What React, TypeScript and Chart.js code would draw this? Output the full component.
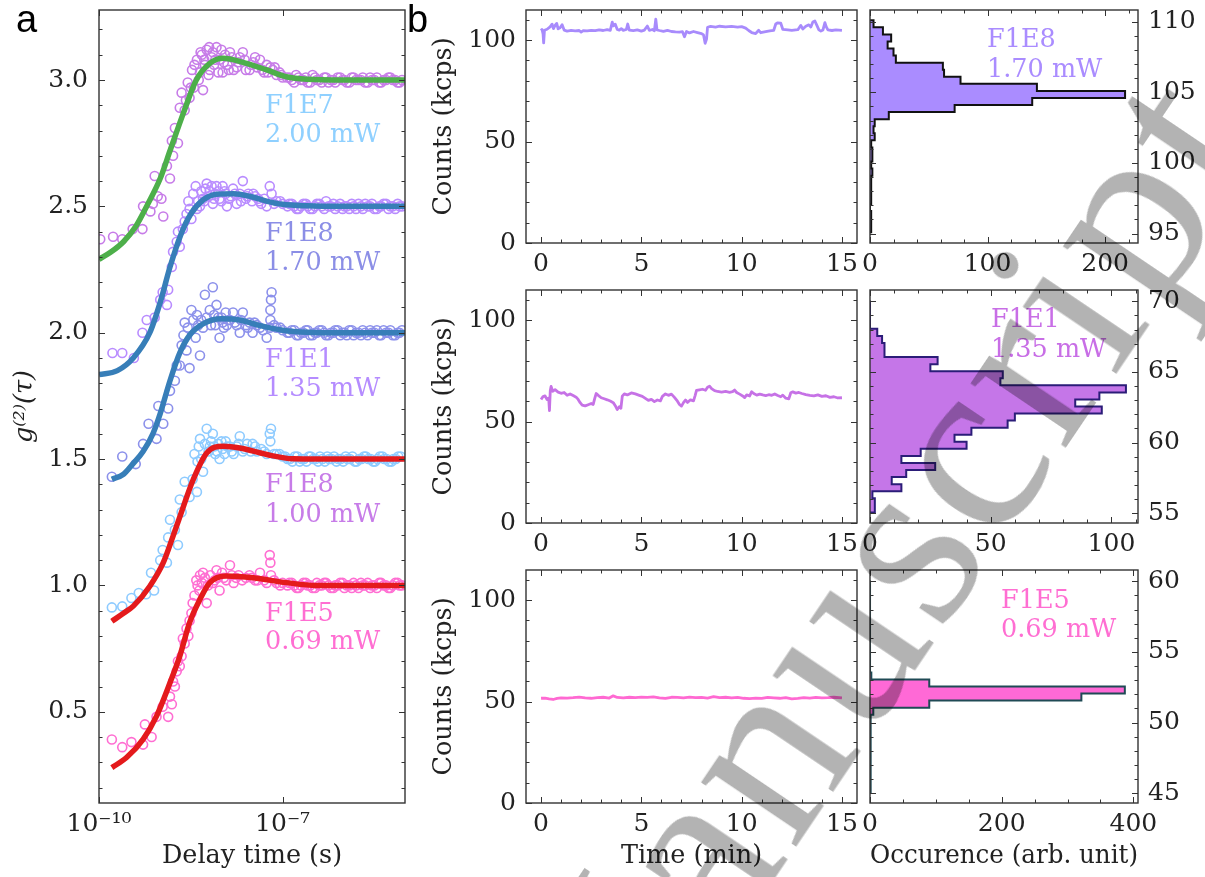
import React, { useEffect, useRef } from 'react';
import { Chart, registerables } from 'chart.js';
Chart.register(...registerables);

const SERIF = '"DejaVu Serif", serif';
const TXT = '#222';
const TICK_PX = 25;
const TITLE_PX = 25.5;

// ---------------- Panel a: g2 data (log10 tau [s], g2 + offset) ----------------
const A_X_TICKS = [1e-10, 1e-7];
const A_X_LABELS = ['10⁻¹⁰', '10⁻⁷'];
const A_Y_TICKS = [0.5, 1.0, 1.5, 2.0, 2.5, 3.0];
const A_Y_LABELS = ['0.5', '1.0', '1.5', '2.0', '2.5', '3.0'];

const DATA_F1E7 = [
  [-9.98, 2.37], [-9.77, 2.38], [-9.62, 2.37], [-9.45, 2.41], [-9.29, 2.41], [-9.28, 2.5], [-9.16, 2.48], [-9.12, 2.51],
  [-9.09, 2.62], [-9.04, 2.54], [-8.98, 2.53], [-8.95, 2.46], [-8.89, 2.66], [-8.84, 2.61], [-8.81, 2.76], [-8.79, 2.7],
  [-8.76, 2.81], [-8.71, 2.75], [-8.68, 2.89], [-8.65, 2.95], [-8.6, 2.88], [-8.55, 2.99], [-8.52, 2.93], [-8.48, 3.04],
  [-8.45, 2.97], [-8.4, 3.08], [-8.37, 3.0], [-8.35, 3.03], [-8.32, 3.1], [-8.3, 2.96], [-8.27, 3.06], [-8.24, 3.12],
  [-8.21, 3.02], [-8.19, 3.04], [-8.16, 3.09], [-8.12, 3.06], [-8.08, 3.13], [-8.05, 3.03], [-8.03, 3.08], [-7.98, 3.03],
  [-7.94, 3.1], [-7.9, 3.06], [-7.86, 3.11], [-7.8, 3.04], [-7.75, 3.05], [-7.7, 3.09], [-7.65, 3.11], [-7.6, 3.04],
  [-7.54, 3.04], [-7.48, 3.07], [-7.42, 3.05], [-7.37, 3.08], [-7.3, 3.03], [-7.26, 3.06], [-7.2, 3.05], [-7.16, 3.04],
  [-7.1, 3.02], [-7.05, 3.03], [-7.0, 3.01], [-6.93, 3.01], [-6.85, 3.0], [-6.78, 3.02], [-6.7, 3.0], [-6.62, 3.01],
  [-6.55, 2.99], [-6.47, 3.01], [-6.4, 3.0], [-6.32, 3.01], [-6.25, 2.99], [-6.17, 3.0], [-6.1, 3.01], [-6.02, 3.0],
  [-5.95, 2.99], [-5.87, 3.01], [-5.8, 3.0], [-5.72, 3.0], [-5.65, 2.99], [-5.57, 3.01], [-5.5, 3.0], [-5.42, 2.99],
  [-5.35, 3.0], [-5.27, 3.01], [-5.2, 3.0], [-5.12, 2.99], [-5.05, 3.0],
  [-8.58, 2.92], [-8.5, 2.97], [-8.44, 3.06], [-8.34, 3.11], [-8.28, 3.08], [-8.2, 3.13], [-8.14, 3.11], [-8.1, 3.08],
  [-8.0, 3.12], [-7.96, 3.07], [-7.88, 3.04], [-7.83, 3.09], [-7.72, 3.07], [-7.62, 3.08], [-7.52, 3.06], [-7.45, 3.09],
  [-7.33, 3.04], [-7.24, 3.03], [-7.13, 3.05], [-7.02, 3.02],
  [-6.89, 3.01], [-6.81, 2.99], [-6.74, 3.01], [-6.66, 3.0], [-6.59, 2.99], [-6.51, 3.02], [-6.44, 3.0], [-6.36, 2.99],
  [-6.29, 3.01], [-6.21, 3.0], [-6.14, 2.99], [-6.06, 3.01], [-5.99, 3.0], [-5.91, 2.99], [-5.84, 3.01], [-5.76, 3.0],
  [-5.69, 3.01], [-5.61, 2.99], [-5.54, 3.0], [-5.46, 3.01], [-5.39, 2.99], [-5.31, 3.0], [-5.24, 3.01], [-5.16, 3.0], [-5.09, 2.99],
];
const DATA_F1E8_170 = [
  [-9.78, 1.92], [-9.62, 1.92], [-9.43, 1.9], [-9.29, 2.0], [-9.22, 2.05], [-9.09, 2.06], [-9.0, 2.13], [-8.96, 2.16],
  [-8.89, 2.11], [-8.87, 2.17], [-8.81, 2.26], [-8.79, 2.32], [-8.73, 2.36], [-8.71, 2.4], [-8.68, 2.34], [-8.63, 2.41],
  [-8.57, 2.47], [-8.52, 2.49], [-8.49, 2.45], [-8.42, 2.58], [-8.38, 2.52], [-8.35, 2.5], [-8.3, 2.53], [-8.26, 2.57],
  [-8.24, 2.59], [-8.19, 2.56], [-8.14, 2.51], [-8.1, 2.55], [-8.08, 2.58], [-8.03, 2.53], [-7.98, 2.58], [-7.93, 2.55],
  [-7.91, 2.5], [-7.85, 2.54], [-7.81, 2.57], [-7.75, 2.51], [-7.7, 2.55], [-7.65, 2.6], [-7.6, 2.53], [-7.56, 2.55],
  [-7.5, 2.52], [-7.45, 2.54], [-7.4, 2.53], [-7.35, 2.51], [-7.26, 2.5], [-7.21, 2.58], [-7.18, 2.55], [-7.1, 2.52],
  [-7.0, 2.51], [-6.92, 2.5], [-6.85, 2.51], [-6.77, 2.49], [-6.7, 2.5], [-6.62, 2.51], [-6.55, 2.49], [-6.47, 2.5],
  [-6.4, 2.51], [-6.32, 2.49], [-6.25, 2.5], [-6.17, 2.51], [-6.1, 2.5], [-6.02, 2.49], [-5.95, 2.5], [-5.87, 2.51],
  [-5.8, 2.49], [-5.72, 2.5], [-5.65, 2.51], [-5.57, 2.5], [-5.5, 2.49], [-5.42, 2.5], [-5.35, 2.51], [-5.27, 2.49],
  [-5.2, 2.5], [-5.12, 2.51], [-5.05, 2.5],
  [-8.6, 2.44], [-8.54, 2.52], [-8.46, 2.55], [-8.4, 2.49], [-8.33, 2.56], [-8.28, 2.52], [-8.21, 2.54], [-8.16, 2.58],
  [-8.12, 2.53], [-8.05, 2.56], [-8.0, 2.52], [-7.95, 2.56], [-7.88, 2.53], [-7.78, 2.55], [-7.68, 2.52], [-7.58, 2.54],
  [-7.48, 2.55], [-7.38, 2.52], [-7.3, 2.53], [-7.14, 2.51], [-7.04, 2.52],
  [-6.89, 2.51], [-6.81, 2.5], [-6.74, 2.49], [-6.66, 2.51], [-6.59, 2.5], [-6.51, 2.49], [-6.44, 2.51], [-6.36, 2.5],
  [-6.29, 2.52], [-6.21, 2.5], [-6.14, 2.49], [-6.06, 2.51], [-5.99, 2.5], [-5.91, 2.49], [-5.84, 2.5], [-5.76, 2.51],
  [-5.69, 2.49], [-5.61, 2.5], [-5.54, 2.51], [-5.46, 2.49], [-5.39, 2.5], [-5.31, 2.51], [-5.24, 2.5], [-5.16, 2.49], [-5.09, 2.5],
];
const DATA_F1E1 = [
  [-9.79, 1.43], [-9.62, 1.51], [-9.4, 1.48], [-9.28, 1.56], [-9.19, 1.64], [-9.06, 1.58], [-9.03, 1.71], [-8.95, 1.64],
  [-8.87, 1.7], [-8.84, 1.77], [-8.76, 1.81], [-8.73, 1.87], [-8.68, 1.87], [-8.65, 1.95], [-8.6, 2.04], [-8.57, 1.93],
  [-8.52, 1.86], [-8.49, 2.09], [-8.42, 1.98], [-8.38, 2.03], [-8.35, 1.91], [-8.33, 2.05], [-8.27, 2.15], [-8.19, 2.09],
  [-8.14, 2.18], [-8.1, 2.03], [-8.08, 2.11], [-8.05, 2.06], [-8.03, 1.98], [-7.98, 2.04], [-7.93, 2.08], [-7.91, 2.03],
  [-7.86, 2.05], [-7.81, 2.08], [-7.75, 2.03], [-7.7, 2.0], [-7.65, 2.08], [-7.6, 2.03], [-7.54, 2.04], [-7.49, 2.0],
  [-7.42, 2.03], [-7.37, 2.02], [-7.26, 1.98], [-7.21, 2.02], [-7.2, 2.05], [-7.2, 2.09], [-7.19, 2.13], [-7.18, 2.16],
  [-7.1, 2.02], [-7.0, 2.01], [-6.92, 2.0], [-6.85, 2.01], [-6.77, 1.99], [-6.7, 2.0], [-6.62, 2.01], [-6.55, 1.99],
  [-6.47, 2.0], [-6.4, 2.01], [-6.32, 2.0], [-6.25, 1.99], [-6.17, 2.0], [-6.1, 2.01], [-6.02, 2.0], [-5.95, 1.99],
  [-5.87, 2.01], [-5.8, 2.0], [-5.72, 1.99], [-5.65, 2.0], [-5.57, 2.01], [-5.5, 2.0], [-5.42, 1.99], [-5.35, 2.01],
  [-5.27, 2.0], [-5.2, 1.99], [-5.12, 2.0], [-5.05, 2.01],
  [-8.62, 1.99], [-8.55, 2.02], [-8.46, 2.05], [-8.4, 2.07], [-8.3, 2.02], [-8.24, 2.06], [-8.17, 2.03], [-8.12, 2.07],
  [-8.0, 2.06], [-7.96, 2.02], [-7.88, 2.05], [-7.78, 2.04], [-7.68, 2.05], [-7.57, 2.02], [-7.46, 2.04], [-7.32, 2.01],
  [-7.14, 2.03], [-7.04, 2.02],
  [-6.89, 2.0], [-6.81, 2.01], [-6.74, 1.99], [-6.66, 2.0], [-6.59, 2.01], [-6.51, 1.99], [-6.44, 2.0], [-6.36, 2.01],
  [-6.29, 1.99], [-6.21, 2.0], [-6.14, 2.01], [-6.06, 1.99], [-5.99, 2.0], [-5.91, 2.01], [-5.84, 1.99], [-5.76, 2.0],
  [-5.69, 2.01], [-5.61, 1.99], [-5.54, 2.0], [-5.46, 2.01], [-5.39, 1.99], [-5.31, 2.0], [-5.24, 2.01], [-5.16, 1.99], [-5.09, 2.0],
];
const DATA_F1E8_100 = [
  [-9.79, 0.913], [-9.62, 0.917], [-9.47, 0.95], [-9.35, 0.97], [-9.23, 0.965], [-9.15, 1.05], [-9.1, 0.98], [-9.0, 1.1],
  [-8.96, 1.14], [-8.89, 1.09], [-8.87, 1.19], [-8.84, 1.26], [-8.76, 1.22], [-8.71, 1.16], [-8.68, 1.34], [-8.65, 1.29],
  [-8.6, 1.41], [-8.52, 1.35], [-8.47, 1.42], [-8.4, 1.37], [-8.39, 1.49], [-8.35, 1.58], [-8.3, 1.45], [-8.24, 1.62],
  [-8.19, 1.55], [-8.14, 1.6], [-8.1, 1.52], [-8.05, 1.56], [-8.03, 1.5], [-7.98, 1.54], [-7.93, 1.57], [-7.86, 1.55],
  [-7.8, 1.52], [-7.75, 1.55], [-7.7, 1.59], [-7.65, 1.53], [-7.58, 1.56], [-7.49, 1.56], [-7.42, 1.53], [-7.35, 1.54],
  [-7.26, 1.52], [-7.21, 1.6], [-7.2, 1.57], [-7.19, 1.62], [-7.1, 1.52], [-7.05, 1.52], [-6.96, 1.51], [-6.88, 1.5],
  [-6.8, 1.51], [-6.72, 1.49], [-6.65, 1.5], [-6.57, 1.51], [-6.5, 1.5], [-6.42, 1.49], [-6.35, 1.5], [-6.27, 1.51],
  [-6.2, 1.5], [-6.12, 1.49], [-6.05, 1.5], [-5.97, 1.51], [-5.9, 1.5], [-5.82, 1.49], [-5.75, 1.5], [-5.67, 1.51],
  [-5.6, 1.5], [-5.52, 1.49], [-5.45, 1.5], [-5.37, 1.51], [-5.3, 1.5], [-5.22, 1.49], [-5.15, 1.5], [-5.07, 1.51],
  [-8.44, 1.52], [-8.37, 1.55], [-8.33, 1.5], [-8.27, 1.56], [-8.21, 1.53], [-8.17, 1.57], [-8.12, 1.55], [-8.07, 1.53],
  [-8.0, 1.57], [-7.95, 1.52], [-7.9, 1.55], [-7.83, 1.53], [-7.72, 1.56], [-7.62, 1.54], [-7.52, 1.53], [-7.45, 1.55],
  [-7.3, 1.53], [-7.14, 1.52], [-7.0, 1.51],
  [-6.92, 1.5], [-6.84, 1.49], [-6.76, 1.51], [-6.69, 1.5], [-6.61, 1.49], [-6.54, 1.51], [-6.46, 1.5], [-6.39, 1.51],
  [-6.31, 1.49], [-6.24, 1.5], [-6.16, 1.51], [-6.09, 1.5], [-6.01, 1.49], [-5.94, 1.5], [-5.86, 1.51], [-5.79, 1.49],
  [-5.71, 1.5], [-5.64, 1.51], [-5.56, 1.5], [-5.49, 1.49], [-5.41, 1.51], [-5.34, 1.5], [-5.26, 1.49], [-5.19, 1.5], [-5.11, 1.51],
];
const DATA_F1E5 = [
  [-9.79, 0.39], [-9.62, 0.36], [-9.47, 0.38], [-9.28, 0.37], [-9.25, 0.45], [-9.14, 0.4], [-9.06, 0.48], [-8.96, 0.52],
  [-8.87, 0.48], [-8.84, 0.56], [-8.81, 0.53], [-8.79, 0.62], [-8.73, 0.66], [-8.71, 0.7], [-8.65, 0.72], [-8.63, 0.79],
  [-8.57, 0.83], [-8.52, 0.86], [-8.49, 0.89], [-8.47, 0.93], [-8.39, 1.0], [-8.35, 1.04], [-8.3, 1.05], [-8.24, 0.93],
  [-8.22, 1.0], [-8.14, 1.01], [-8.08, 1.06], [-8.03, 0.98], [-7.96, 1.03], [-7.86, 1.08], [-7.8, 1.01], [-7.72, 1.04],
  [-7.6, 1.03], [-7.54, 1.04], [-7.45, 1.02], [-7.37, 1.05], [-7.3, 1.02], [-7.21, 1.12], [-7.2, 1.09], [-7.19, 1.04],
  [-7.1, 1.01], [-7.0, 1.01], [-6.92, 1.0], [-6.85, 1.01], [-6.77, 0.99], [-6.7, 1.0], [-6.62, 1.01], [-6.55, 1.0],
  [-6.47, 0.99], [-6.4, 1.0], [-6.32, 1.01], [-6.25, 1.0], [-6.17, 0.99], [-6.1, 1.0], [-6.02, 1.01], [-5.95, 1.0],
  [-5.87, 0.99], [-5.8, 1.0], [-5.72, 1.01], [-5.65, 1.0], [-5.57, 0.99], [-5.5, 1.0], [-5.42, 1.01], [-5.35, 1.0],
  [-5.27, 0.99], [-5.2, 1.0], [-5.12, 1.01], [-5.05, 1.0],
  [-8.76, 0.6], [-8.68, 0.68], [-8.6, 0.77], [-8.54, 0.8], [-8.44, 0.96], [-8.41, 1.02], [-8.36, 0.98], [-8.32, 1.01],
  [-8.27, 1.03], [-8.18, 1.04], [-8.11, 1.02], [-8.06, 1.03], [-7.99, 1.05], [-7.92, 1.02], [-7.83, 1.04], [-7.76, 1.03],
  [-7.66, 1.02], [-7.5, 1.03], [-7.41, 1.02], [-7.26, 1.01], [-7.14, 1.02], [-7.04, 1.0],
  [-6.89, 1.01], [-6.81, 1.0], [-6.74, 0.99], [-6.66, 1.01], [-6.59, 1.0], [-6.51, 0.99], [-6.44, 1.01], [-6.36, 1.0],
  [-6.29, 1.01], [-6.21, 0.99], [-6.14, 1.0], [-6.06, 1.01], [-5.99, 0.99], [-5.91, 1.0], [-5.84, 1.01], [-5.76, 0.99],
  [-5.69, 1.0], [-5.61, 1.01], [-5.54, 1.0], [-5.46, 0.99], [-5.39, 1.01], [-5.31, 1.0], [-5.24, 0.99], [-5.16, 1.01], [-5.09, 1.0],
];

const FIT_F1E7 = [
  [-10.0, 2.29], [-9.8, 2.32], [-9.6, 2.36], [-9.4, 2.42], [-9.2, 2.51], [-9.0, 2.61], [-8.84, 2.72], [-8.62, 2.87],
  [-8.41, 3.0], [-8.19, 3.066], [-7.97, 3.086], [-7.65, 3.07], [-7.26, 3.04], [-6.94, 3.013], [-6.6, 3.003], [-6.0, 3.0], [-5.0, 3.0],
];
const FIT_F1E8_170 = [
  [-10.0, 1.834], [-9.7, 1.85], [-9.44, 1.9], [-9.17, 2.0], [-9.0, 2.12], [-8.84, 2.26], [-8.66, 2.39], [-8.5, 2.47],
  [-8.3, 2.525], [-8.08, 2.548], [-7.8, 2.55], [-7.54, 2.54], [-7.25, 2.52], [-7.0, 2.508], [-6.6, 2.502], [-6.0, 2.5], [-5.0, 2.5],
];
const FIT_F1E1 = [
  [-9.79, 1.42], [-9.6, 1.44], [-9.45, 1.48], [-9.28, 1.53], [-9.12, 1.6], [-9.0, 1.68], [-8.84, 1.81], [-8.68, 1.92],
  [-8.52, 1.99], [-8.3, 2.035], [-8.0, 2.055], [-7.7, 2.05], [-7.4, 2.03], [-7.0, 2.01], [-6.6, 2.002], [-6.0, 2.0], [-5.0, 2.0],
];
const FIT_F1E8_100 = [
  [-9.79, 0.858], [-9.6, 0.89], [-9.44, 0.918], [-9.17, 0.997], [-8.95, 1.09], [-8.79, 1.195], [-8.62, 1.313],
  [-8.46, 1.419], [-8.24, 1.524], [-7.97, 1.551], [-7.7, 1.544], [-7.26, 1.518], [-6.83, 1.501], [-6.4, 1.5], [-5.0, 1.5],
];
const FIT_F1E5 = [
  [-9.79, 0.279], [-9.55, 0.319], [-9.28, 0.391], [-9.06, 0.483], [-8.84, 0.615], [-8.68, 0.72], [-8.52, 0.853],
  [-8.35, 0.945], [-8.19, 1.011], [-7.92, 1.037], [-7.48, 1.03], [-6.94, 1.011], [-6.45, 1.0], [-5.0, 1.0],
];

// ---------------- Panel b: time traces (min, kcps) ----------------
const T_X_TICKS = [0, 5, 10, 15];
const T_X_LABELS = ['0', '5', '10', '15'];
const T_Y_TICKS = [0, 50, 100];
const T_Y_LABELS = ['0', '50', '100'];

const TRACE_170 = [
  [0, 104.6], [0.05, 105.2], [0.1, 103.0], [0.13, 98.6], [0.17, 104.8], [0.3, 105.3], [0.45, 106.5], [0.55, 107.8],
  [0.62, 105.6], [0.7, 107.2], [0.78, 108.2], [0.85, 105.5], [0.95, 106.0], [1.05, 107.6], [1.15, 104.9], [1.3, 104.4],
  [1.5, 104.8], [1.7, 104.5], [1.9, 104.7], [2.0, 103.9], [2.1, 104.6], [2.3, 104.5], [2.5, 104.8], [2.7, 104.6],
  [2.9, 105.0], [3.1, 104.7], [3.3, 105.1], [3.45, 104.8], [3.55, 108.8], [3.6, 107.0], [3.7, 107.8], [3.8, 105.2],
  [3.9, 104.9], [4.0, 105.6], [4.1, 104.8], [4.25, 105.2], [4.32, 107.9], [4.4, 104.9], [4.6, 104.6], [4.8, 105.0],
  [5.0, 104.4], [5.15, 104.9], [5.3, 106.9], [5.4, 104.8], [5.55, 105.2], [5.65, 104.6], [5.72, 110.3], [5.78, 105.0],
  [5.9, 104.7], [6.1, 104.3], [6.3, 104.8], [6.5, 104.2], [6.7, 104.0], [6.9, 103.9], [7.05, 104.1], [7.15, 101.6],
  [7.25, 104.2], [7.4, 103.5], [7.6, 104.2], [7.8, 103.7], [8.0, 103.2], [8.1, 102.5], [8.18, 98.4], [8.25, 100.5],
  [8.3, 106.3], [8.45, 106.7], [8.7, 106.4], [8.9, 106.8], [9.2, 106.5], [9.5, 106.7], [9.8, 106.4], [10.0, 106.6],
  [10.2, 105.9], [10.35, 104.7], [10.5, 103.7], [10.7, 103.2], [10.85, 104.8], [10.95, 103.6], [11.2, 104.1],
  [11.4, 104.5], [11.6, 104.8], [11.7, 107.9], [11.8, 108.5], [11.95, 108.3], [12.05, 105.3], [12.3, 105.0],
  [12.5, 104.8], [12.8, 105.1], [12.95, 107.2], [13.05, 105.4], [13.2, 106.8], [13.35, 107.5], [13.45, 106.4],
  [13.55, 108.9], [13.65, 109.4], [13.75, 107.2], [13.85, 105.0], [13.95, 104.4], [14.05, 104.9], [14.15, 108.6],
  [14.22, 106.5], [14.3, 105.0], [14.5, 104.7], [14.7, 105.0], [15.0, 104.8],
];
const TRACE_135 = [
  [0, 60.8], [0.1, 62.3], [0.2, 62.6], [0.3, 60.8], [0.38, 61.6], [0.42, 55.4], [0.46, 65.2], [0.5, 67.3], [0.58, 64.9],
  [0.7, 65.7], [0.85, 64.5], [1.0, 63.9], [1.15, 64.3], [1.3, 62.9], [1.45, 63.6], [1.6, 62.8], [1.75, 62.0], [1.85, 60.9],
  [1.95, 59.3], [2.05, 58.1], [2.2, 57.7], [2.35, 58.3], [2.5, 58.9], [2.6, 58.4], [2.68, 61.5], [2.75, 63.8], [2.85, 62.9],
  [3.0, 61.7], [3.15, 61.2], [3.3, 60.7], [3.45, 60.1], [3.6, 59.3], [3.7, 57.8], [3.8, 55.9], [3.9, 57.3], [3.98, 56.5],
  [4.05, 62.5], [4.15, 63.6], [4.3, 63.1], [4.5, 64.1], [4.7, 63.6], [4.9, 62.9], [5.05, 62.4], [5.2, 61.4], [5.35, 60.4],
  [5.5, 60.9], [5.65, 59.8], [5.8, 60.6], [5.95, 60.2], [6.05, 62.4], [6.2, 63.6], [6.35, 62.9], [6.5, 63.5], [6.65, 61.9],
  [6.8, 60.0], [6.9, 58.4], [7.0, 57.6], [7.1, 59.3], [7.2, 60.6], [7.3, 59.4], [7.45, 60.7], [7.6, 60.2], [7.68, 62.8],
  [7.75, 65.3], [7.9, 65.6], [8.05, 65.9], [8.2, 65.4], [8.3, 66.9], [8.4, 67.4], [8.5, 66.2], [8.65, 65.2], [8.8, 64.8],
  [9.0, 64.5], [9.2, 64.8], [9.4, 64.4], [9.55, 64.7], [9.65, 65.5], [9.75, 64.3], [9.9, 63.5], [10.05, 62.6], [10.15, 61.8],
  [10.25, 63.1], [10.4, 62.6], [10.5, 64.7], [10.6, 63.8], [10.75, 63.0], [10.9, 63.5], [11.05, 63.1], [11.2, 62.8],
  [11.35, 63.2], [11.5, 62.9], [11.65, 63.6], [11.8, 62.8], [11.95, 62.2], [12.05, 63.0], [12.2, 61.5], [12.35, 61.2],
  [12.45, 64.2], [12.55, 64.6], [12.7, 64.0], [12.85, 64.3], [13.0, 63.8], [13.2, 63.3], [13.4, 62.9], [13.6, 62.6],
  [13.8, 63.1], [14.0, 62.4], [14.2, 62.7], [14.4, 61.9], [14.6, 62.2], [14.8, 61.6], [15.0, 61.7],
];
const TRACE_069 = [
  [0, 51.6], [0.2, 51.7], [0.4, 51.3], [0.6, 51.0], [0.8, 51.5], [1.0, 51.8], [1.3, 51.7], [1.6, 51.9], [1.9, 52.2],
  [2.2, 51.8], [2.5, 51.6], [2.8, 51.9], [3.1, 52.1], [3.4, 51.7], [3.6, 52.8], [3.8, 52.0], [4.1, 51.8], [4.4, 52.1],
  [4.7, 51.9], [5.0, 52.2], [5.3, 52.0], [5.6, 52.3], [5.9, 51.8], [6.2, 51.5], [6.5, 52.1], [6.8, 52.0], [7.1, 51.8],
  [7.4, 52.2], [7.7, 51.9], [8.0, 52.0], [8.3, 51.7], [8.6, 52.4], [8.9, 51.9], [9.2, 52.1], [9.5, 51.8], [9.8, 52.0],
  [10.1, 51.6], [10.4, 51.4], [10.7, 51.7], [11.0, 51.5], [11.3, 52.0], [11.6, 51.8], [11.9, 51.6], [12.2, 51.9],
  [12.5, 51.3], [12.8, 51.5], [13.1, 51.9], [13.4, 51.7], [13.7, 52.0], [14.0, 51.8], [14.3, 51.9], [14.6, 52.1], [15.0, 51.8],
];

// ---------------- Panel b: histograms (bin start, width, counts) ----------------
const HIST_170_START = 95.1;
const HIST_170_WIDTH = 0.5;
const HIST_170_COUNTS = [1, 1, 1, 0, 1, 1, 1, 1, 2, 1, 2, 2, 1, 4, 3, 4, 16, 72, 138, 217, 142, 77, 63, 62, 22, 20, 15, 18, 11, 3];
const HIST_135_START = 55.05;
const HIST_135_WIDTH = 0.5;
const HIST_135_COUNTS = [2, 2, 1, 13, 9, 15, 27, 13, 21, 40, 35, 42, 57, 60, 96, 85, 95, 106, 54, 55, 25, 28, 6, 6, 5, 3, 0, 0, 0, 0];
const HIST_069_START = 45.05;
const HIST_069_WIDTH = 0.5;
const HIST_069_COUNTS = [1, 1, 1, 1, 1, 1, 1, 1, 1, 1, 1, 5, 90, 321, 387, 90, 2, 1, 0, 0, 0, 0, 0, 0, 0, 0, 0, 0, 0, 0];

const H1_X_TICKS = [0, 100, 200]; const H1_X_LABELS = ['0', '100', '200'];
const H1_Y_TICKS = [95, 100, 105, 110]; const H1_Y_LABELS = ['95', '100', '105', '110'];
const H2_X_TICKS = [0, 50, 100]; const H2_X_LABELS = ['0', '50', '100'];
const H2_Y_TICKS = [55, 60, 65, 70]; const H2_Y_LABELS = ['55', '60', '65', '70'];
const H3_X_TICKS = [0, 200, 400]; const H3_X_LABELS = ['0', '200', '400'];
const H3_Y_TICKS = [45, 50, 55, 60]; const H3_Y_LABELS = ['45', '50', '55', '60'];

// ---------------- helpers ----------------
function range(a: number, b: number, step: number) {
  const out: number[] = [];
  const n = Math.round((b - a) / step);
  for (let i = 0; i <= n; i++) out.push(+(a + i * step).toFixed(6));
  return out;
}

function histOutline(start: number, width: number, counts: number[]) {
  const pts: any[] = [{ x: 0, y: start }];
  counts.forEach((c, i) => {
    pts.push({ x: c, y: start + i * width });
    pts.push({ x: c, y: start + (i + 1) * width });
  });
  pts.push({ x: 0, y: start + counts.length * width });
  return pts;
}

const logPts = (arr: number[][]) => arr.map(([lt, g]) => ({ x: Math.pow(10, lt), y: g }));
const xyPts = (arr: number[][]) => arr.map(([x, y]) => ({ x, y }));

function framePlugin(cfg: { xMajor: number[]; xMinor: number[]; yMajor: number[]; yMinor: number[] }) {
  return {
    id: 'frameTicks',
    afterDatasetsDraw(chart: any) {
      const { ctx, chartArea: a } = chart;
      const xs = chart.scales.x;
      const ys = chart.scales.y;
      ctx.save();
      ctx.strokeStyle = '#333';
      ctx.lineWidth = 1;
      ctx.beginPath();
      const tx = (vals: number[], len: number) =>
        vals.forEach((v) => {
          const p = Math.round(xs.getPixelForValue(v)) + 0.5;
          if (p < a.left - 1 || p > a.right + 1) return;
          ctx.moveTo(p, a.bottom); ctx.lineTo(p, a.bottom - len);
          ctx.moveTo(p, a.top); ctx.lineTo(p, a.top + len);
        });
      const ty = (vals: number[], len: number) =>
        vals.forEach((v) => {
          const p = Math.round(ys.getPixelForValue(v)) + 0.5;
          if (p < a.top - 1 || p > a.bottom + 1) return;
          ctx.moveTo(a.left, p); ctx.lineTo(a.left + len, p);
          ctx.moveTo(a.right, p); ctx.lineTo(a.right - len, p);
        });
      tx(cfg.xMajor, 6); tx(cfg.xMinor, 3.5); ty(cfg.yMajor, 6); ty(cfg.yMinor, 3.5);
      ctx.stroke();
      ctx.lineWidth = 1.4;
      ctx.strokeRect(a.left, a.top, a.right - a.left, a.bottom - a.top);
      ctx.restore();
    },
  };
}

function mkScale(o: any) {
  return {
    type: o.type || 'linear',
    position: o.position,
    min: o.min,
    max: o.max,
    grid: { display: false, drawTicks: false },
    border: { display: false },
    afterBuildTicks: (s: any) => { s.ticks = o.ticks.map((v: number) => ({ value: v })); },
    ticks: {
      autoSkip: false, maxRotation: 0, minRotation: 0, padding: o.pad, color: TXT,
      font: { family: SERIF, size: TICK_PX },
      callback: (_v: any, i: number) => o.labels[i],
    },
    title: o.title
      ? { display: true, text: o.title, color: TXT, font: { family: SERIF, size: TITLE_PX, style: o.italic ? 'italic' : 'normal' }, padding: { top: o.titlePad, bottom: o.titlePad } }
      : { display: false },
    afterFit: (s: any) => {
      if (o.horizontal) s.height = o.size; else s.width = o.size;
      s.paddingLeft = 0; s.paddingRight = 0; s.paddingTop = 0; s.paddingBottom = 0;
    },
  };
}

const baseOpts = (padding: any) => ({
  animation: false,
  responsive: false,
  devicePixelRatio: 1,
  events: [],
  layout: { padding },
  plugins: { legend: { display: false }, tooltip: { enabled: false } },
});

function makePanelA() {
  const fit = (d: number[][], color: string) => ({
    data: logPts(d), borderColor: color, borderWidth: 5.5, pointRadius: 0, showLine: true,
    cubicInterpolationMode: 'monotone', fill: false, order: 0, clip: 0,
  });
  const pts = (d: number[][], color: string) => ({
    data: logPts(d), showLine: false, pointRadius: 4.5, pointBorderWidth: 1.6, pointStyle: 'circle',
    pointBackgroundColor: 'rgba(0,0,0,0)', pointBorderColor: color, borderColor: color, order: 1, clip: 0,
  });
  return {
    type: 'line',
    data: {
      datasets: [
        fit(FIT_F1E7, '#4daf4a'), fit(FIT_F1E8_170, '#377eb8'), fit(FIT_F1E1, '#377eb8'),
        fit(FIT_F1E8_100, '#e41a1c'), fit(FIT_F1E5, '#e41a1c'),
        pts(DATA_F1E7, '#c77ce8'), pts(DATA_F1E8_170, '#b98cff'), pts(DATA_F1E1, '#8c91eb'),
        pts(DATA_F1E8_100, '#8ecbff'), pts(DATA_F1E5, '#ff6ed2'),
      ],
    },
    options: {
      ...baseOpts({ left: 0, top: 10, right: 15, bottom: 0 }),
      scales: {
        x: mkScale({ type: 'logarithmic', min: 1e-10, max: 1e-5, ticks: A_X_TICKS, labels: A_X_LABELS, horizontal: true, size: 74, pad: 6, title: 'Delay time (s)', titlePad: 5 }),
        y: mkScale({ min: 0.139, max: 3.277, ticks: A_Y_TICKS, labels: A_Y_LABELS, horizontal: false, size: 99, pad: 11, title: 'g⁽²⁾(τ)', titlePad: 10, italic: true }),
      },
    },
    plugins: [framePlugin({ xMajor: A_X_TICKS, xMinor: [], yMajor: A_Y_TICKS, yMinor: range(0.2, 3.2, 0.1) })],
  };
}

function makeTrace(data: number[][], color: string, padTop: number, xSize: number, showTitle: boolean) {
  return {
    type: 'line',
    data: {
      datasets: [{ data: xyPts(data), borderColor: color, borderWidth: 2.8, pointRadius: 0, fill: false, tension: 0, clip: 0, borderJoinStyle: 'round' }],
    },
    options: {
      ...baseOpts({ left: 0, top: padTop, right: 3, bottom: 0 }),
      scales: {
        x: mkScale({ min: -0.75, max: 15.75, ticks: T_X_TICKS, labels: T_X_LABELS, horizontal: true, size: xSize, pad: 6, title: showTitle ? 'Time (min)' : null, titlePad: 5 }),
        y: mkScale({ min: 0, max: 114.8, ticks: T_Y_TICKS, labels: T_Y_LABELS, horizontal: false, size: 116, pad: 10, title: 'Counts (kcps)', titlePad: 19 }),
      },
    },
    plugins: [framePlugin({ xMajor: T_X_TICKS, xMinor: range(0, 15, 1), yMajor: T_Y_TICKS, yMinor: range(0, 110, 10) })],
  };
}

function makeHist(h: any) {
  return {
    type: 'line',
    data: {
      datasets: [{
        data: histOutline(h.start, h.width, h.counts), borderColor: h.edge, backgroundColor: h.fillColor,
        fill: 'origin', borderWidth: 2, pointRadius: 0, tension: 0, clip: 0, borderJoinStyle: 'miter',
      }],
    },
    options: {
      ...baseOpts({ left: 10, top: h.padTop, right: 0, bottom: 0 }),
      indexAxis: 'y',
      scales: {
        x: mkScale({ min: 0, max: h.xMax, ticks: h.xTicks, labels: h.xLabels, horizontal: true, size: h.xSize, pad: 6, title: h.title, titlePad: 5 }),
        y: mkScale({ position: 'right', min: h.yMin, max: h.yMax, ticks: h.yTicks, labels: h.yLabels, horizontal: false, size: 67, pad: 10 }),
      },
    },
    plugins: [framePlugin({ xMajor: h.xTicks, xMinor: h.xMinor, yMajor: h.yTicks, yMinor: h.yMinor })],
  };
}

function ChartBox({ x, y, w, h, make }: any) {
  const ref = useRef<HTMLCanvasElement>(null);
  useEffect(() => {
    const chart = new Chart(ref.current as any, make());
    return () => chart.destroy();
  }, []);
  return <canvas ref={ref} width={w} height={h} style={{ position: 'absolute', left: x, top: y, width: w, height: h }} />;
}

const ANNOTATIONS = [
  { x: 265, ys: [104, 133], lines: ['F1E7', '2.00 mW'], color: '#8fd0ff' },
  { x: 265, ys: [232, 261], lines: ['F1E8', '1.70 mW'], color: '#8b8ee6' },
  { x: 265, ys: [358, 387], lines: ['F1E1', '1.35 mW'], color: '#b58cff' },
  { x: 265, ys: [483, 513], lines: ['F1E8', '1.00 mW'], color: '#c77ce8' },
  { x: 265, ys: [612, 640], lines: ['F1E5', '0.69 mW'], color: '#ff6ed2' },
  { x: 987, ys: [38, 68], lines: ['F1E8', '1.70 mW'], color: '#aa8cff' },
  { x: 991, ys: [318, 348], lines: ['F1E1', '1.35 mW'], color: '#c86ee6' },
  { x: 1001, ys: [599, 628], lines: ['F1E5', '0.69 mW'], color: '#ff6ed2' },
];

export default function App() {
  return (
    <div style={{ position: 'absolute', left: 0, top: 0, width: 1205, height: 877, background: '#fff', overflow: 'hidden' }}>
      <ChartBox x={0} y={0} w={420} h={877} make={makePanelA} />
      <ChartBox x={410} y={0} w={450} h={283} make={() => makeTrace(TRACE_170, '#a88bfc', 10, 40, false)} />
      <ChartBox x={410} y={283} w={450} h={280} make={() => makeTrace(TRACE_135, '#c672e6', 7, 40, false)} />
      <ChartBox x={410} y={563} w={450} h={314} make={() => makeTrace(TRACE_069, '#ff69d2', 7, 74, true)} />
      <ChartBox x={860} y={0} w={345} h={283} make={() => makeHist({
        start: HIST_170_START, width: HIST_170_WIDTH, counts: HIST_170_COUNTS, edge: '#111', fillColor: '#aa8cff',
        padTop: 10, xSize: 40, xMax: 228, xTicks: H1_X_TICKS, xLabels: H1_X_LABELS, xMinor: range(0, 220, 20),
        yMin: 94.33, yMax: 110.83, yTicks: H1_Y_TICKS, yLabels: H1_Y_LABELS, yMinor: range(95, 110, 1), title: null,
      })} />
      <ChartBox x={860} y={283} w={345} h={280} make={() => makeHist({
        start: HIST_135_START, width: HIST_135_WIDTH, counts: HIST_135_COUNTS, edge: '#2b1d78', fillColor: '#c576e8',
        padTop: 7, xSize: 40, xMax: 111, xTicks: H2_X_TICKS, xLabels: H2_X_LABELS, xMinor: range(0, 110, 10),
        yMin: 54.3, yMax: 70.8, yTicks: H2_Y_TICKS, yLabels: H2_Y_LABELS, yMinor: range(55, 70, 1), title: null,
      })} />
      <ChartBox x={860} y={563} w={345} h={314} make={() => makeHist({
        start: HIST_069_START, width: HIST_069_WIDTH, counts: HIST_069_COUNTS, edge: '#1f4a55', fillColor: '#ff69d6',
        padTop: 7, xSize: 74, xMax: 407, xTicks: H3_X_TICKS, xLabels: H3_X_LABELS, xMinor: range(0, 400, 50),
        yMin: 44.3, yMax: 60.8, yTicks: H3_Y_TICKS, yLabels: H3_Y_LABELS, yMinor: range(45, 60, 1), title: 'Occurence (arb. unit)',
      })} />
      {ANNOTATIONS.map((a, i) =>
        a.lines.map((t, j) => (
          <div key={i + '-' + j} style={{ position: 'absolute', left: a.x, top: a.ys[j] - 15, font: `25.5px ${SERIF}`, lineHeight: '30px', color: a.color, whiteSpace: 'nowrap' }}>{t}</div>
        ))
      )}
      <div style={{ position: 'absolute', left: 16, top: 0, font: '38px "Liberation Sans", Arial, sans-serif', lineHeight: '38px', color: '#000' }}>a</div>
      <div style={{ position: 'absolute', left: 407, top: 0, font: '38px "Liberation Sans", Arial, sans-serif', lineHeight: '38px', color: '#000' }}>b</div>
      <div style={{
        position: 'absolute', left: 427, top: 1021, transform: 'rotate(-56deg)', transformOrigin: '0 0',
        font: '250px "Liberation Serif", serif', lineHeight: '250px', letterSpacing: 6, color: '#b3b3b3',
        mixBlendMode: 'multiply', whiteSpace: 'nowrap', pointerEvents: 'none',
      }}>Manuscript</div>
    </div>
  );
}
